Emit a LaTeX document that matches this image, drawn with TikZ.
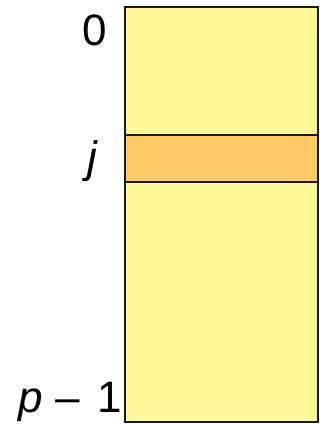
\documentclass[tikz,border=0pt]{standalone}
\usepackage{fontspec}
\setmainfont{Liberation Sans}
\definecolor{coly}{HTML}{FFFA99}
\definecolor{colo}{HTML}{FFC966}
\begin{document}
\begin{tikzpicture}[x=1bp,y=-1bp,
  lab/.style={inner sep=0pt, font=\fontsize{44bp}{48bp}\selectfont},
  cell/.style={draw=black!90, line width=2bp}]
\useasboundingbox (0,0) rectangle (324,424);
\draw[cell, fill=coly] (124.5,7) rectangle (317.5,421.5);
\draw[cell, fill=colo] (124.5,134.5) rectangle (317.5,182);
\node[lab] (zero) at (94.5,30) {0};
\node[lab] (jj) at (93,161.5) {\textit{j}};
\node[lab, anchor=base east] (pm) at (122,412) {\textit{p}\hspace{13bp}–\hspace{17bp}1};
\end{tikzpicture}
\end{document}
